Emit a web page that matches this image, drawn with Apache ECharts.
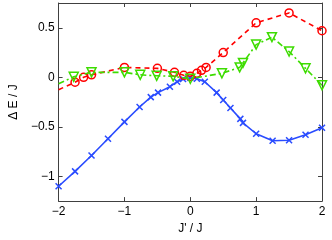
<!DOCTYPE html>
<html>
<head>
<meta charset="utf-8">
<script src="https://cdn.jsdelivr.net/npm/echarts@6/dist/echarts.min.js"></script>
<style>
html,body{margin:0;padding:0;background:#fff;}
#chart{width:332px;height:240px;}
</style>
</head>
<body>
<div id="chart"></div>
<script>
// Data
var xTicks = [-2, -1, 0, 1, 2];
var yTicks = [-1, -0.5, 0, 0.5];

var blueX = [-2, -1.75, -1.5, -1.25, -1, -0.77, -0.6, -0.49, -0.31, -0.2, -0.11, 0, 0.1, 0.22, 0.4, 0.5, 0.61, 0.76, 0.8, 1, 1.25, 1.5, 1.75, 2];
var blueY = [-1.1, -0.95, -0.79, -0.62, -0.45, -0.30, -0.2, -0.155, -0.095, -0.045, -0.017, -0.005, -0.015, -0.045, -0.155, -0.23, -0.31, -0.42, -0.46, -0.57, -0.64, -0.635, -0.58, -0.51];

var redX = [-2, -1.75, -1.62, -1.5, -1, -0.5, -0.24, -0.1, 0, 0.1, 0.17, 0.24, 0.5, 1, 1.5, 2];
var redY = [-0.125, -0.05, 0, 0.025, 0.1, 0.09, 0.05, 0.02, 0.01, 0.04, 0.07, 0.1, 0.25, 0.55, 0.65, 0.47];

var greenX = [-2, -1.77, -1.5, -1, -0.76, -0.51, -0.26, 0, 0.48, 0.75, 0.8, 1, 1.24, 1.5, 1.75, 2];
var greenY = [-0.065, 0.005, 0.05, 0.05, 0.025, 0.015, 0.01, -0.015, 0.04, 0.1, 0.145, 0.33, 0.405, 0.26, 0.09, -0.08];

function pairs(xs, ys, hideFirst) {
  return xs.map(function (x, i) {
    var d = { value: [x, ys[i]] };
    if (hideFirst && i === 0) d.symbol = 'none';
    return d;
  });
}
function fmt(v) {
  return String(v).replace('-', '\u2212');
}

var axisColor = '#404040';
var font = 'Liberation Sans, Arial, sans-serif';

var chart = echarts.init(document.getElementById('chart'), null, { renderer: 'canvas' });
chart.setOption({
  animation: false,
  backgroundColor: '#fff',
  grid: { left: 48, right: 10, top: 3, bottom: 31, containLabel: false },
  xAxis: [{
    type: 'value', min: -2, max: 2, position: 'bottom',
    name: "J' / J", nameLocation: 'middle', nameGap: 20,
    nameTextStyle: { color: '#000', fontSize: 12, fontFamily: font },
    axisLine: { show: true, onZero: false, lineStyle: { color: axisColor, width: 1 } },
    axisTick: { show: true, inside: true, length: 4, customValues: xTicks, lineStyle: { color: axisColor } },
    axisLabel: { customValues: xTicks, formatter: fmt, color: '#000', fontSize: 12, fontFamily: font, margin: 5 },
    splitLine: { show: false }
  }, {
    type: 'value', min: -2, max: 2, position: 'top',
    axisLine: { show: true, onZero: false, lineStyle: { color: axisColor, width: 1 } },
    axisTick: { show: true, inside: true, length: 4, customValues: xTicks, lineStyle: { color: axisColor } },
    axisLabel: { show: false },
    splitLine: { show: false }
  }],
  yAxis: [{
    type: 'value', min: -1.25, max: 0.75, position: 'left',
    name: '\u0394 E / J', nameLocation: 'middle', nameGap: 32, nameRotate: 90,
    nameTextStyle: { color: '#000', fontSize: 12, fontFamily: font },
    axisLine: { show: true, onZero: false, lineStyle: { color: axisColor, width: 1 } },
    axisTick: { show: true, inside: true, length: 4, customValues: yTicks, lineStyle: { color: axisColor } },
    axisLabel: { customValues: yTicks, formatter: fmt, color: '#000', fontSize: 12, fontFamily: font, margin: 4 },
    splitLine: { show: false }
  }, {
    type: 'value', min: -1.25, max: 0.75, position: 'right',
    axisLine: { show: true, onZero: false, lineStyle: { color: axisColor, width: 1 } },
    axisTick: { show: true, inside: true, length: 4, customValues: yTicks, lineStyle: { color: axisColor } },
    axisLabel: { show: false },
    splitLine: { show: false }
  }],
  series: [{
    type: 'line', name: 'blue',
    data: pairs(blueX, blueY, false),
    symbol: 'path://M0,0L10,10M10,0L0,10', symbolSize: 6,
    lineStyle: { color: '#2a4cff', width: 1.6, type: 'solid' },
    itemStyle: { color: '#2a4cff', borderColor: '#2a4cff', borderWidth: 1.5 },
    z: 3
  }, {
    type: 'line', name: 'red',
    data: pairs(redX, redY, true),
    symbol: 'circle', symbolSize: 8,
    lineStyle: { color: '#ff0000', width: 1.6, type: [5, 4] },
    itemStyle: { color: 'rgba(0,0,0,0)', borderColor: '#ff0000', borderWidth: 1.5 },
    z: 4
  }, {
    type: 'line', name: 'green',
    data: pairs(greenX, greenY, true),
    symbol: 'triangle', symbolRotate: 180, symbolSize: 9,
    lineStyle: { color: '#3ddc00', width: 1.6, type: [6, 3, 2, 3] },
    itemStyle: { color: 'rgba(0,0,0,0)', borderColor: '#3ddc00', borderWidth: 1.5 },
    z: 5
  }]
});
</script>
</body>
</html>
